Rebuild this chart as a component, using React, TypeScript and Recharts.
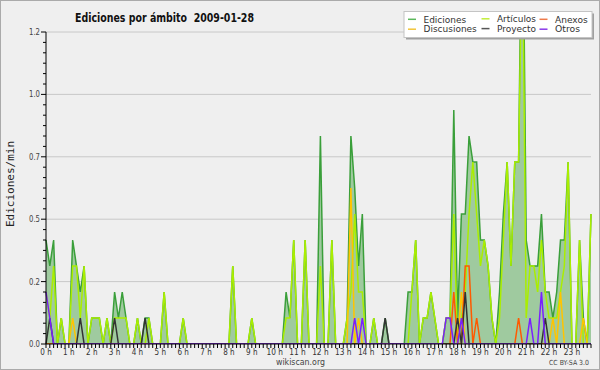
import { Area, CartesianGrid, ComposedChart, Line, XAxis, YAxis } from 'recharts';

// 10-minute slots over the day, values in edits per minute
const ediciones = [
  0.4, 0.3, 0.4, 0, 0.1, 0, 0, 0.4, 0.3, 0.2, 0.3, 0,
  0.1, 0.1, 0.1, 0, 0.1, 0, 0.2, 0.1, 0.2, 0.1, 0, 0,
  0.1, 0, 0.1, 0.1, 0, 0, 0, 0.2, 0, 0, 0, 0,
  0.1, 0, 0, 0, 0, 0, 0, 0, 0, 0, 0, 0,
  0, 0.3, 0, 0, 0, 0, 0.1, 0, 0, 0, 0, 0,
  0, 0, 0, 0.2, 0.1, 0.4, 0, 0, 0.4, 0, 0, 0,
  0.8, 0, 0, 0.4, 0, 0, 0, 0.1, 0.8, 0.6, 0.3, 0.5,
  0, 0, 0.1, 0, 0, 0.1, 0, 0, 0, 0, 0, 0.2,
  0.2, 0.4, 0, 0.1, 0.1, 0.2, 0.1, 0, 0, 0.1, 0.1, 0.9,
  0.1, 0.5, 0.5, 0.8, 0.7, 0.7, 0.4, 0.4, 0.3, 0.1, 0, 0.2,
  0.5, 0.7, 0.3, 0.7, 0.7, 1.9, 0.4, 0.3, 0.3, 0.3, 0.5, 0.2,
  0.2, 0.1, 0.2, 0.4, 0.4, 0.7, 0, 0, 0.4, 0.1, 0, 0.5,
];

const articulos = [
  0.2, 0.1, 0.3, 0, 0.1, 0, 0, 0.3, 0.3, 0.1, 0.3, 0,
  0.1, 0.1, 0.1, 0, 0.1, 0, 0.1, 0.1, 0.1, 0.1, 0, 0,
  0.1, 0, 0, 0.1, 0, 0, 0, 0.2, 0, 0, 0, 0,
  0.1, 0, 0, 0, 0, 0, 0, 0, 0, 0, 0, 0,
  0, 0.3, 0, 0, 0, 0, 0.1, 0, 0, 0, 0, 0,
  0, 0, 0, 0.1, 0.1, 0.4, 0, 0, 0.4, 0, 0, 0,
  0.3, 0, 0, 0.4, 0, 0, 0, 0.1, 0.2, 0.5, 0.2, 0.2,
  0, 0, 0.1, 0, 0, 0, 0, 0, 0, 0, 0, 0,
  0.2, 0.4, 0, 0.1, 0.1, 0.2, 0.1, 0, 0, 0.1, 0.1, 0.5,
  0, 0.1, 0.2, 0.5, 0.7, 0.5, 0.3, 0.4, 0.3, 0.1, 0, 0.1,
  0.4, 0.7, 0.3, 0.7, 0.7, 1.6, 0.1, 0.3, 0.3, 0.2, 0.4, 0.2,
  0.1, 0.1, 0.1, 0.2, 0.3, 0.7, 0, 0, 0.4, 0, 0, 0.5,
];

const anexos = [
  0, 0, 0, 0, 0, 0, 0, 0, 0, 0, 0, 0,
  0, 0, 0, 0, 0, 0, 0, 0, 0, 0, 0, 0,
  0, 0, 0, 0, 0, 0, 0, 0, 0, 0, 0, 0,
  0, 0, 0, 0, 0, 0, 0, 0, 0, 0, 0, 0,
  0, 0, 0, 0, 0, 0, 0, 0, 0, 0, 0, 0,
  0, 0, 0, 0, 0, 0, 0, 0, 0, 0, 0, 0,
  0, 0, 0, 0, 0, 0, 0, 0, 0, 0, 0, 0,
  0, 0, 0, 0, 0, 0, 0, 0, 0, 0, 0, 0,
  0, 0, 0, 0, 0, 0, 0, 0, 0, 0, 0, 0.2,
  0, 0, 0.3, 0.3, 0, 0.1, 0, 0, 0, 0, 0, 0,
  0, 0, 0, 0, 0.1, 0, 0, 0, 0, 0, 0, 0,
  0, 0, 0, 0, 0, 0, 0, 0, 0, 0, 0, 0,
];

const discusiones = [
  0, 0, 0, 0, 0, 0, 0, 0.1, 0, 0, 0, 0,
  0, 0, 0, 0, 0, 0, 0, 0, 0, 0, 0, 0,
  0, 0, 0, 0, 0, 0, 0, 0, 0, 0, 0, 0,
  0, 0, 0, 0, 0, 0, 0, 0, 0, 0, 0, 0,
  0, 0, 0, 0, 0, 0, 0, 0, 0, 0, 0, 0,
  0, 0, 0, 0, 0, 0, 0, 0, 0, 0, 0, 0,
  0, 0, 0, 0, 0, 0, 0, 0, 0.6, 0, 0.1, 0,
  0, 0, 0, 0, 0, 0, 0, 0, 0, 0, 0, 0,
  0, 0, 0, 0, 0, 0, 0, 0, 0, 0, 0, 0,
  0, 0.2, 0, 0, 0, 0, 0, 0, 0, 0, 0, 0,
  0, 0, 0, 0, 0, 0, 0, 0, 0, 0, 0, 0,
  0, 0.1, 0, 0.2, 0, 0, 0, 0, 0, 0.1, 0, 0,
];

const proyecto = [
  0, 0.1, 0, 0, 0, 0, 0, 0, 0, 0.1, 0, 0,
  0, 0, 0, 0, 0, 0, 0.1, 0, 0, 0, 0, 0,
  0, 0, 0.1, 0, 0, 0, 0, 0, 0, 0, 0, 0,
  0, 0, 0, 0, 0, 0, 0, 0, 0, 0, 0, 0,
  0, 0, 0, 0, 0, 0, 0, 0, 0, 0, 0, 0,
  0, 0, 0, 0, 0, 0, 0, 0, 0, 0, 0, 0,
  0, 0, 0, 0, 0, 0, 0, 0, 0, 0, 0, 0,
  0, 0, 0, 0, 0, 0.1, 0, 0, 0, 0, 0, 0,
  0, 0, 0, 0, 0, 0, 0, 0, 0, 0, 0, 0,
  0.1, 0, 0.2, 0, 0, 0, 0, 0, 0, 0, 0, 0,
  0, 0, 0, 0, 0, 0, 0, 0, 0, 0, 0, 0.1,
  0, 0, 0, 0, 0, 0, 0, 0, 0, 0, 0, 0,
];

const otros = [
  0.2, 0.1, 0, 0, 0, 0, 0, 0, 0, 0, 0, 0,
  0, 0, 0, 0, 0, 0, 0, 0, 0, 0, 0, 0,
  0, 0, 0, 0, 0, 0, 0, 0, 0, 0, 0, 0,
  0, 0, 0, 0, 0, 0, 0, 0, 0, 0, 0, 0,
  0, 0, 0, 0, 0, 0, 0, 0, 0, 0, 0, 0,
  0, 0, 0, 0, 0, 0, 0, 0, 0, 0, 0, 0,
  0, 0, 0, 0, 0, 0, 0, 0, 0, 0.1, 0, 0.1,
  0, 0, 0, 0, 0, 0, 0, 0, 0, 0, 0, 0,
  0, 0, 0, 0, 0, 0, 0, 0, 0, 0.1, 0.1, 0,
  0, 0.1, 0, 0, 0, 0, 0, 0, 0, 0, 0, 0,
  0, 0, 0, 0, 0, 0, 0, 0.1, 0, 0, 0.2, 0,
  0, 0, 0, 0, 0, 0, 0, 0, 0, 0, 0, 0,
];

const hourLabels = [
  '0 h', '1 h', '2 h', '3 h', '4 h', '5 h', '6 h', '7 h', '8 h', '9 h', '10 h', '11 h',
  '12 h', '13 h', '14 h', '15 h', '16 h', '17 h', '18 h', '19 h', '20 h', '21 h', '22 h', '23 h',
];

const yTickValues = [0, 0.24, 0.48, 0.72, 0.96, 1.2];
const yTickLabels = ['0.0', '0.2', '0.5', '0.7', '1.0', '1.2'];

const legendItems = [
  { name: 'Ediciones', color: '#5cb85c', x: 408, y: 19.3, w: 42.7 },
  { name: 'Discusiones', color: '#f2c53a', x: 408, y: 29.2, w: 53.3 },
  { name: 'Artículos', color: '#c2ee3a', x: 481.5, y: 18.8, w: 39 },
  { name: 'Proyecto', color: '#555555', x: 481.5, y: 28.6, w: 39 },
  { name: 'Anexos', color: '#ee7a4a', x: 539.5, y: 19.3, w: 32.7 },
  { name: 'Otros', color: '#8a3ae8', x: 539.5, y: 29.2, w: 25 },
];

const slots = ediciones.map((_, i) => i);
const yMinorTicks = Array.from({ length: 31 }, (_, k) => Number((k * 0.04).toFixed(2)));

const data = slots.map((i) => ({
  slot: i,
  ediciones: ediciones[i],
  articulos: articulos[i],
  anexos: anexos[i],
  discusiones: discusiones[i],
  proyecto: proyecto[i],
  otros: otros[i],
}));

const FONT = '"DejaVu Sans", sans-serif';

const XTick = (props: any) => {
  const { x, y, payload } = props;
  const v = payload.value;
  const label = v % 6 === 0 ? hourLabels[v / 6] : null;
  return (
    <g>
      <line x1={x} x2={x} y1={y} y2={y + 4} stroke="#000" />
      {label && (
        <text
          x={x}
          y={y + 11}
          textAnchor="middle"
          fontSize={9}
          fontFamily={FONT}
          fill="#333"
          textLength={label.length === 3 ? 11.5 : 16.5}
          lengthAdjust="spacingAndGlyphs"
        >
          {label}
        </text>
      )}
    </g>
  );
};

const YTick = (props: any) => {
  const { x, y, payload } = props;
  const k = Math.round(payload.value / 0.04);
  const major = k % 6 === 0;
  return (
    <g>
      <line x1={x - (major ? 5 : 3)} x2={x} y1={y} y2={y} stroke="#000" />
      {major && (
        <text
          x={x - 6}
          y={y + 3}
          textAnchor="end"
          fontSize={9}
          fontFamily={FONT}
          fill="#444"
          textLength={11}
          lengthAdjust="spacingAndGlyphs"
        >
          {yTickLabels[k / 6]}
        </text>
      )}
    </g>
  );
};

const App = () => {
  return (
    <div
      style={{
        position: 'absolute',
        left: 0,
        top: 0,
        width: 600,
        height: 370,
        background: '#efefef',
      }}
    >
      <ComposedChart
        width={600}
        height={370}
        data={data}
        margin={{ top: 32, right: 9, bottom: 0, left: 0 }}
      >
        <CartesianGrid
          vertical={false}
          horizontalValues={yTickValues.slice(1)}
          stroke="#c8c8c8"
        />
        <XAxis
          dataKey="slot"
          type="number"
          domain={[0, 143]}
          ticks={slots}
          interval={0}
          tickSize={0}
          tickMargin={0}
          tickLine={false}
          axisLine={{ stroke: '#000' }}
          tick={(p: any) => <XTick {...p} />}
          height={26}
        />
        <YAxis
          type="number"
          domain={[0, 1.2]}
          allowDataOverflow
          ticks={yMinorTicks}
          interval={0}
          tickSize={0}
          tickMargin={0}
          tickLine={false}
          axisLine={{ stroke: '#000' }}
          tick={(p: any) => <YTick {...p} />}
          width={46}
        />
        <Area
          type="linear"
          dataKey="ediciones"
          stroke="#3a9f3a"
          strokeWidth={1.5}
          fill="#9fca9f"
          fillOpacity={1}
          dot={false}
          activeDot={false}
          isAnimationActive={false}
        />
        <Line type="linear" dataKey="articulos" stroke="#aaee00" strokeWidth={1.5} dot={false} activeDot={false} isAnimationActive={false} />
        <Line type="linear" dataKey="discusiones" stroke="#ffc400" strokeWidth={1.5} dot={false} activeDot={false} isAnimationActive={false} />
        <Line type="linear" dataKey="anexos" stroke="#ff5a00" strokeWidth={1.5} dot={false} activeDot={false} isAnimationActive={false} />
        <Line type="linear" dataKey="proyecto" stroke="#333333" strokeWidth={1.5} dot={false} activeDot={false} isAnimationActive={false} />
        <Line type="linear" dataKey="otros" stroke="#7a1fff" strokeWidth={1.5} dot={false} activeDot={false} isAnimationActive={false} />
      </ComposedChart>

      <svg
        width={600}
        height={370}
        style={{ position: 'absolute', left: 0, top: 0, pointerEvents: 'none' }}
      >
        <rect x={0.5} y={0.5} width={599} height={369} fill="none" stroke="#aaaaaa" />
        <text
          x={75}
          y={22}
          fontSize={12.5}
          fontWeight="bold"
          fontFamily={FONT}
          fill="#111"
          textLength={179}
          lengthAdjust="spacingAndGlyphs"
          style={{ whiteSpace: 'pre' }}
        >
          {'Ediciones por ámbito  2009-01-28'}
        </text>
        <text
          transform="translate(14,184) rotate(-90)"
          textAnchor="middle"
          fontSize={11}
          fontFamily='"DejaVu Sans Mono", monospace'
          fill="#222"
        >
          Ediciones/min
        </text>

        <rect x={406} y={13.5} width={188} height={26} fill="#a0a0a0" />
        <rect x={404} y={11.5} width={188} height={26} fill="#ffffff" stroke="#c4c4c4" />
        {legendItems.map((it) => (
          <g key={it.name}>
            <line x1={it.x} x2={it.x + 8} y1={it.y} y2={it.y} stroke={it.color} strokeWidth={1.5} />
            <text
              x={it.x + 15.5}
              y={it.y + 3.2}
              fontSize={9.5}
              fontFamily={FONT}
              fill="#333"
              textLength={it.w}
              lengthAdjust="spacingAndGlyphs"
            >
              {it.name}
            </text>
          </g>
        ))}

        <text
          x={300.5}
          y={364.5}
          textAnchor="middle"
          fontSize={9}
          fontFamily={FONT}
          fill="#444"
          textLength={49}
          lengthAdjust="spacingAndGlyphs"
        >
          wikiscan.org
        </text>
        <text
          x={549}
          y={364.5}
          fontSize={7}
          fontFamily={FONT}
          fill="#444"
          textLength={40}
          lengthAdjust="spacingAndGlyphs"
        >
          CC BY-SA 3.0
        </text>
      </svg>
    </div>
  );
};

export default App;
